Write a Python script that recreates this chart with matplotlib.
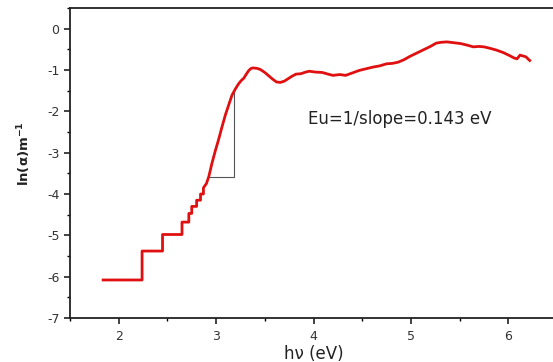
import matplotlib
matplotlib.use("Agg")
import matplotlib.pyplot as plt
from matplotlib.ticker import MultipleLocator

plt.rcParams['font.family'] = ['DejaVu Sans']
plt.rcParams['axes.unicode_minus'] = False

# photon energy (eV) and ln(alpha)
hv = [1.84, 2.24, 2.24, 2.45, 2.45, 2.65, 2.65, 2.72, 2.72, 2.75, 2.75, 2.80,
      2.80, 2.84, 2.84, 2.87, 2.87, 2.90, 2.925, 2.957, 2.99, 3.026, 3.06,
      3.095, 3.13, 3.163, 3.20, 3.232, 3.26, 3.284, 3.31, 3.336, 3.36, 3.38,
      3.42, 3.456, 3.50, 3.54, 3.58, 3.62, 3.66, 3.70, 3.74, 3.78, 3.82, 3.87,
      3.92, 3.956, 4.02, 4.09, 4.15, 4.20, 4.27, 4.33, 4.40, 4.47, 4.54, 4.61,
      4.68, 4.75, 4.81, 4.87, 4.93, 4.99, 5.06, 5.13, 5.20, 5.26, 5.31, 5.37,
      5.44, 5.51, 5.58, 5.64, 5.70, 5.75, 5.82, 5.88, 5.95, 6.02, 6.06, 6.09,
      6.12, 6.15, 6.18, 6.22]
ln_alpha = [-6.08, -6.08, -5.38, -5.38, -4.98, -4.98, -4.68, -4.68, -4.47, -4.47,
            -4.30, -4.30, -4.15, -4.15, -4.00, -4.00, -3.85, -3.75, -3.58, -3.26,
            -2.97, -2.68, -2.38, -2.09, -1.84, -1.61, -1.45, -1.33, -1.25, -1.20,
            -1.10, -1.01, -0.96, -0.95, -0.96, -0.99, -1.06, -1.14, -1.22, -1.29,
            -1.30, -1.27, -1.21, -1.15, -1.10, -1.09, -1.05, -1.03, -1.05, -1.06,
            -1.10, -1.13, -1.11, -1.13, -1.07, -1.01, -0.97, -0.93, -0.90, -0.85,
            -0.84, -0.81, -0.75, -0.67, -0.59, -0.51, -0.43, -0.35, -0.33, -0.32,
            -0.34, -0.36, -0.40, -0.44, -0.43, -0.44, -0.48, -0.52, -0.58, -0.66,
            -0.71, -0.73, -0.64, -0.66, -0.68, -0.77]

# slope triangle
tri_x = [2.94, 3.18, 3.18]
tri_y = [-3.6, -3.6, -1.55]

fig = plt.figure(figsize=(5.53, 3.62), dpi=100)
ax = fig.add_axes([70/553, 1-318/362, 487/553, 310/362])

ax.plot(tri_x, tri_y, color='#555555', lw=0.8)
ax.plot(hv, ln_alpha, color='#e01010', lw=2.0)

ax.set_xlim(1.5, 6.5)
ax.set_ylim(-7, 0.5)
ax.xaxis.set_major_locator(MultipleLocator(1))
ax.xaxis.set_minor_locator(MultipleLocator(0.5))
ax.yaxis.set_major_locator(MultipleLocator(1))
ax.yaxis.set_minor_locator(MultipleLocator(0.5))
ax.tick_params(which='major', direction='out', length=4, width=1.2,
               labelsize=9, colors='#222222', labelcolor='#333333')
ax.tick_params(axis='x', which='major', pad=5)
ax.tick_params(which='minor', direction='out', length=2.5, width=1.0)
for s in ax.spines.values():
    s.set_linewidth(1.3)
    s.set_color('#222222')

ax.text(3.94, -2.18, 'Eu=1/slope=0.143 eV', fontsize=12, va='center',
        color='#222222')
ax.set_xlabel('h\u03bd (eV)', fontsize=12, color='#222222', labelpad=1)
ax.set_ylabel('ln(\u03b1)m$^{\\mathbf{-1}}$', fontsize=9.5, fontweight='bold',
              color='#222222')
ax.yaxis.set_label_coords(-0.075, 0.53)

fig.savefig('out.png', dpi=100)
